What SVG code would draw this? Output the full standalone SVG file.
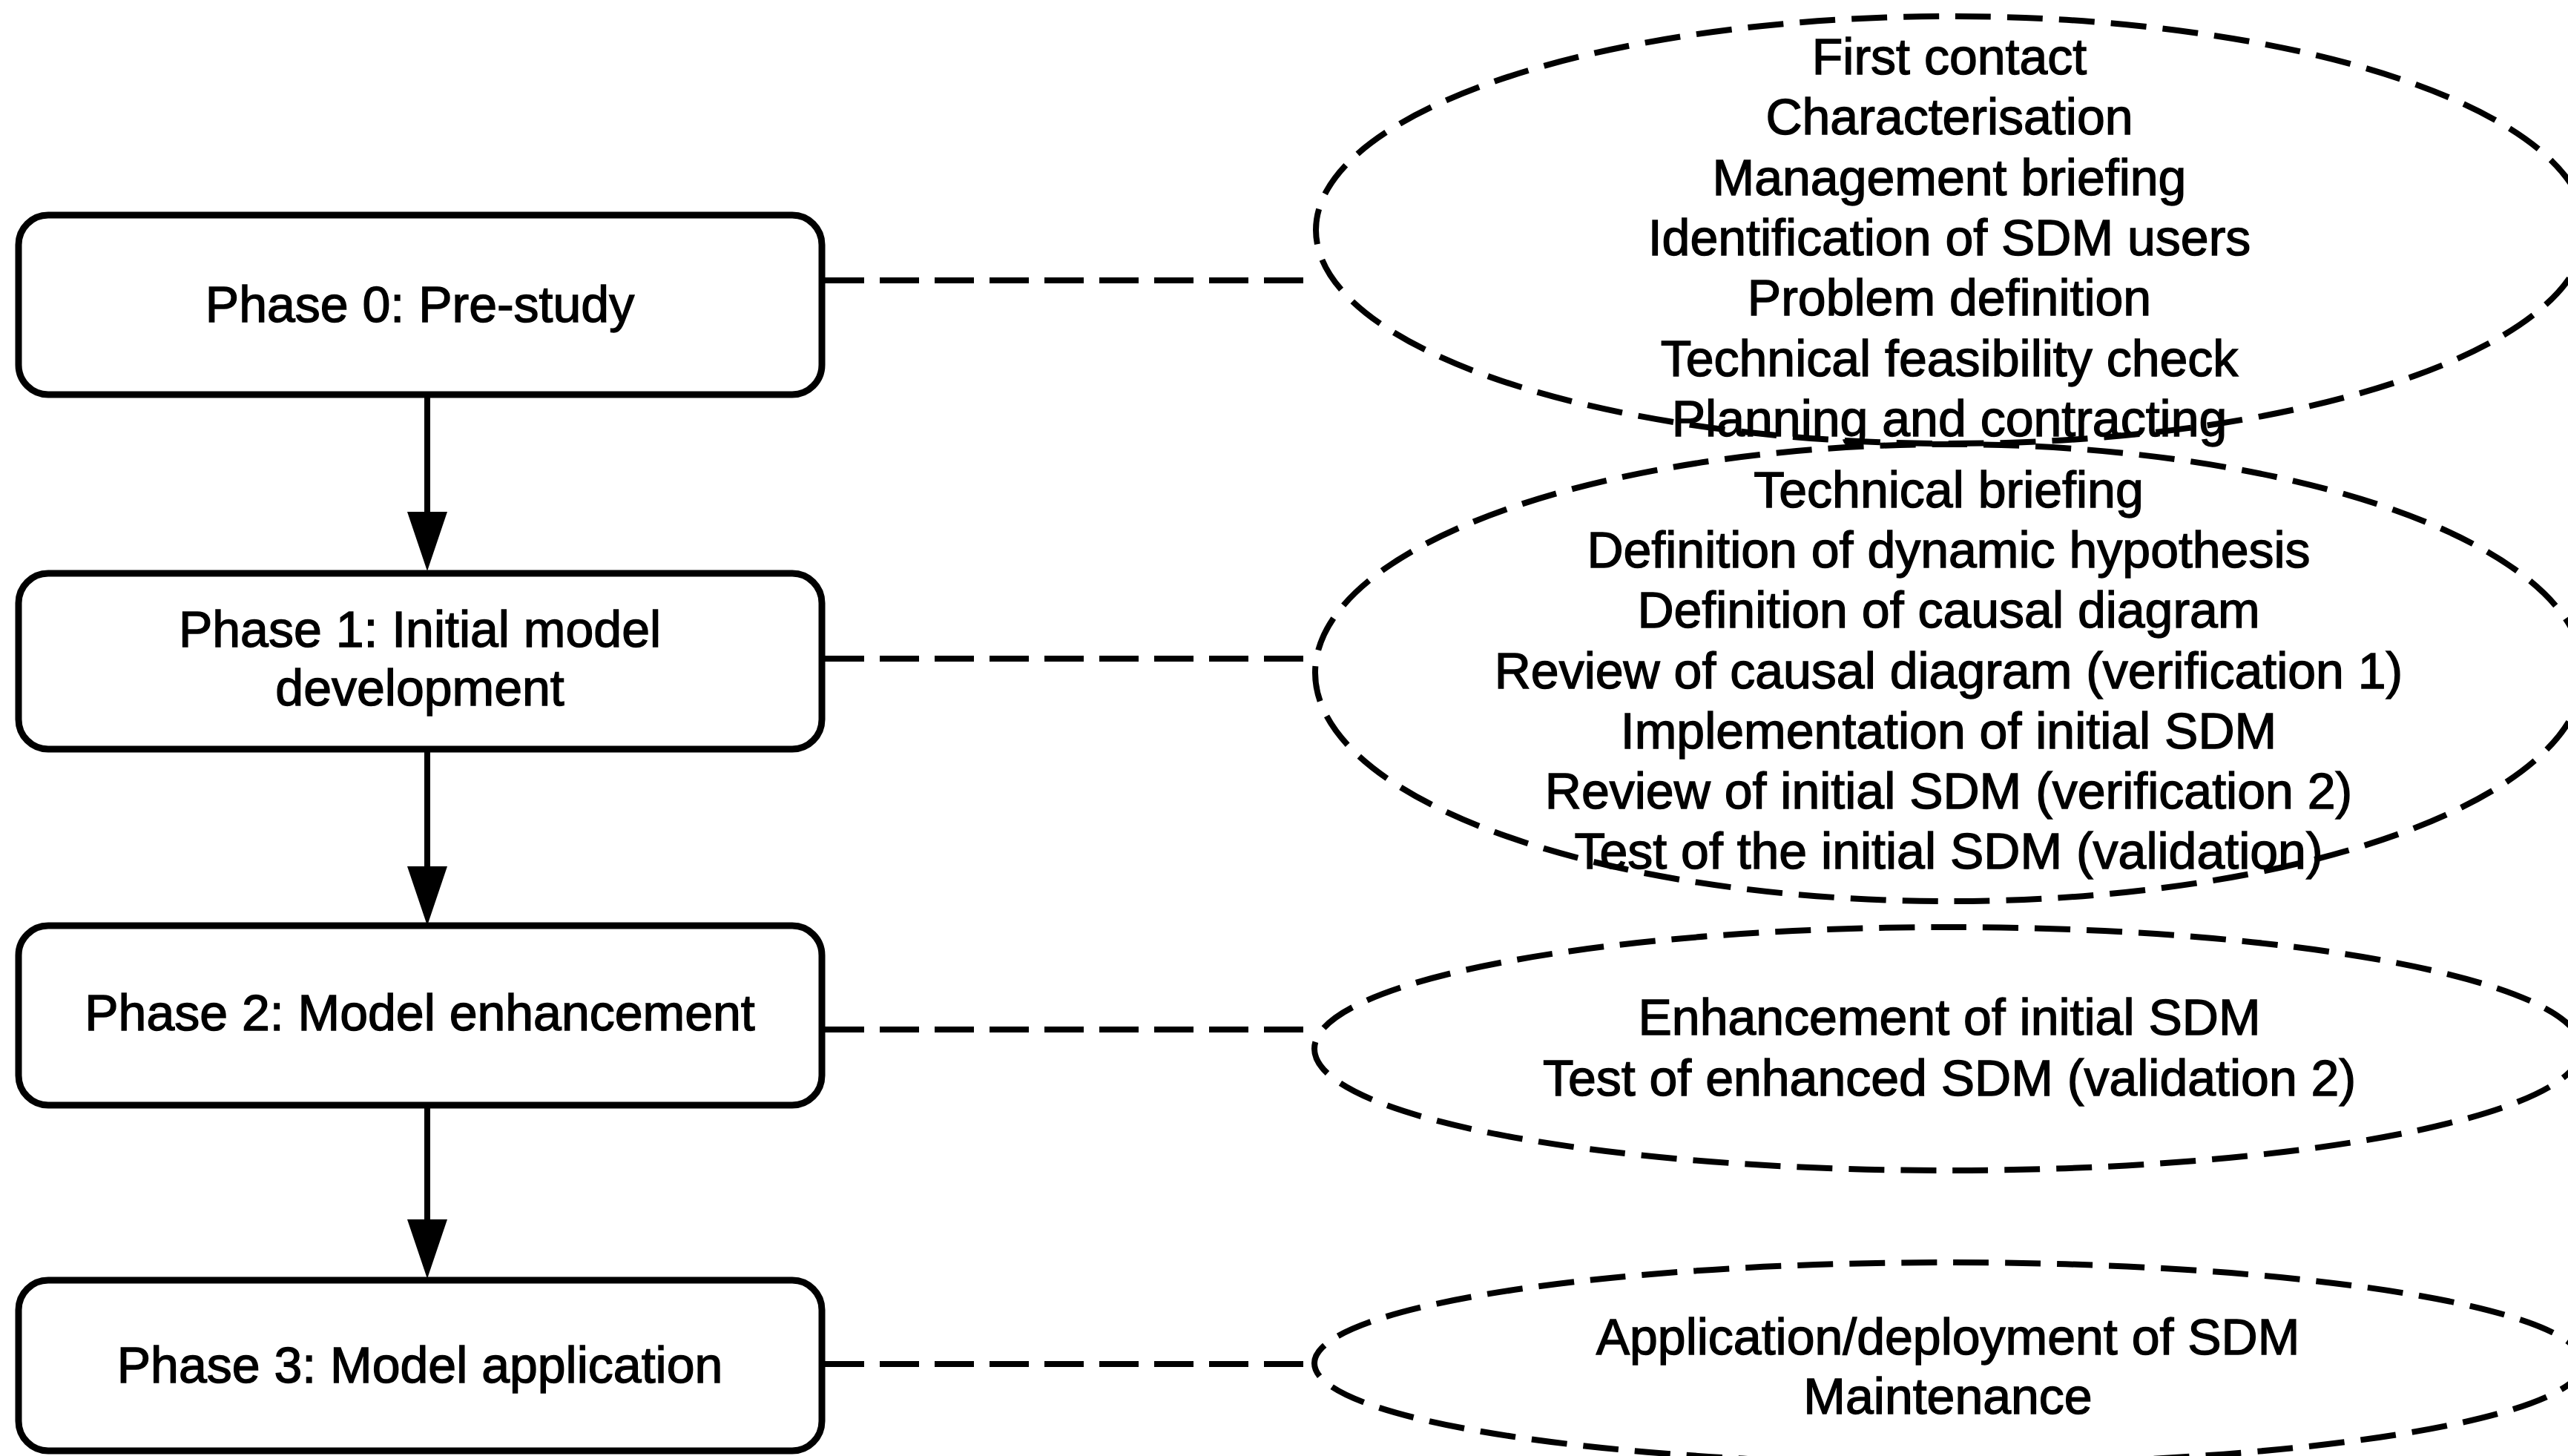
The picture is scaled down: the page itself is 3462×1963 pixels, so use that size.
<svg xmlns="http://www.w3.org/2000/svg" width="3462" height="1963" viewBox="0 0 3462 1963">
  <defs>
    <style>
      .phase { fill: #ffffff; stroke: #000000; stroke-width: 9; }
      .activities { fill: none; stroke: #000000; stroke-width: 8; stroke-dasharray: 48 22; }
      .flow { fill: none; stroke: #000000; stroke-width: 8; }
      .link { fill: none; stroke: #000000; stroke-width: 8; stroke-dasharray: 53 21; }
      text { font-family: "Liberation Sans", Arial, sans-serif; font-size: 68px; fill: #000000; stroke: #000000; stroke-width: 1.4; text-anchor: middle; }
    </style>
    <marker id="head" markerUnits="userSpaceOnUse" markerWidth="82" markerHeight="56" refX="0" refY="27" orient="auto">
      <path d="M0,0 L80,27 L0,54 Z" fill="#000000"/>
    </marker>
  </defs>

  <rect x="0" y="0" width="3462" height="1963" fill="#ffffff"/>

  <!-- phase-to-phase arrows and dashed links to the activity ellipses -->
  <g id="connectors">
    <path class="flow" d="M576,536 V690" marker-end="url(#head)"/>
    <path class="flow" d="M576,1014 V1168" marker-end="url(#head)"/>
    <path class="flow" d="M576,1494 V1644" marker-end="url(#head)"/>
    <path class="link" d="M1112,378 H1774"/>
    <path class="link" d="M1112,888 H1772"/>
    <path class="link" d="M1112,1388 H1772"/>
    <path class="link" d="M1112,1839 H1772"/>
  </g>

  <!-- phases -->
  <g id="phase0">
    <rect class="phase" x="25" y="290" width="1083" height="242" rx="40" ry="40"/>
    <text x="566" y="434">Phase 0: Pre-study</text>
  </g>
  <g id="phase1">
    <rect class="phase" x="25" y="773" width="1083" height="237" rx="40" ry="40"/>
    <text x="566" y="872">Phase 1: Initial model</text>
    <text x="566" y="951">development</text>
  </g>
  <g id="phase2">
    <rect class="phase" x="25" y="1248" width="1083" height="242" rx="40" ry="40"/>
    <text x="566" y="1389">Phase 2: Model enhancement</text>
  </g>
  <g id="phase3">
    <rect class="phase" x="25" y="1726" width="1083" height="230" rx="40" ry="40"/>
    <text x="566" y="1864">Phase 3: Model application</text>
  </g>

  <!-- activities of each phase -->
  <g id="activities0">
    <ellipse class="activities" cx="2630" cy="310" rx="856" ry="288"/>
    <text x="2628" y="100">First contact</text>
    <text x="2628" y="181">Characterisation</text>
    <text x="2628" y="263">Management briefing</text>
    <text x="2628" y="344">Identification of SDM users</text>
    <text x="2628" y="425">Problem definition</text>
    <text x="2628" y="507">Technical feasibility check</text>
    <text x="2628" y="588">Planning and contracting</text>
  </g>
  <g id="activities1">
    <ellipse class="activities" cx="2628" cy="907" rx="855" ry="308"/>
    <text x="2627" y="684">Technical briefing</text>
    <text x="2627" y="765">Definition of dynamic hypothesis</text>
    <text x="2627" y="846">Definition of causal diagram</text>
    <text x="2627" y="928">Review of causal diagram (verification 1)</text>
    <text x="2627" y="1009">Implementation of initial SDM</text>
    <text x="2627" y="1090">Review of initial SDM (verification 2)</text>
    <text x="2627" y="1171">Test of the initial SDM (validation)</text>
  </g>
  <g id="activities2">
    <ellipse class="activities" cx="2626" cy="1414" rx="854" ry="164"/>
    <text x="2628" y="1395">Enhancement of initial SDM</text>
    <text x="2628" y="1477">Test of enhanced SDM (validation 2)</text>
  </g>
  <g id="activities3">
    <ellipse class="activities" cx="2627" cy="1838" rx="855" ry="136"/>
    <text x="2626" y="1826">Application/deployment of SDM</text>
    <text x="2626" y="1906">Maintenance</text>
  </g>
</svg>
